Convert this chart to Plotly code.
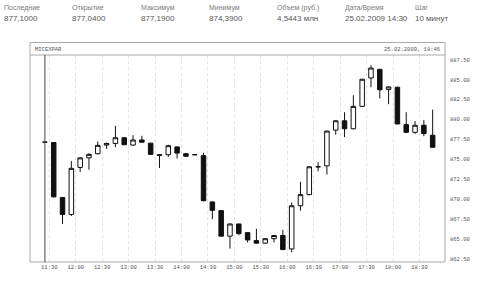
import plotly.graph_objects as go

# ---------------- data ----------------
day = "2009-02-25"
times = ["11:20", "11:30", "11:40", "11:50", "12:00", "12:10", "12:20", "12:30", "12:40", "12:50",
         "13:00", "13:10", "13:20", "13:30", "13:40", "13:50", "14:00", "14:10", "14:20", "14:30",
         "14:40", "14:50", "15:00", "15:10", "15:20", "15:30", "15:40", "15:50", "16:00", "16:10",
         "16:20", "16:30", "16:40", "16:50", "17:00", "17:10", "17:20", "17:30", "17:40", "17:50",
         "18:00", "18:10", "18:20", "18:30", "18:40"]
opens = [877.15, 877.10, 870.19, 868.06, 873.97, 875.17, 875.69, 876.78, 876.98, 877.70,
         876.78, 877.42, 877.02, 875.57, 875.57, 876.54, 875.69, 875.57, 875.45, 869.63,
         868.54, 865.33, 866.86, 865.77, 864.77, 864.45, 865.01, 865.41, 863.72, 869.15,
         870.55, 874.05, 874.17, 878.66, 879.83, 878.83, 881.64, 885.21, 886.30, 883.77,
         884.05, 879.35, 878.38, 879.27, 878.02]
highs = [877.17, 877.15, 870.25, 874.77, 875.25, 875.77, 877.22, 877.10, 879.19, 877.75,
         878.02, 877.94, 877.05, 875.60, 876.82, 876.60, 875.80, 875.60, 875.81, 869.70,
         868.60, 866.90, 866.90, 865.80, 866.26, 865.05, 865.45, 866.13, 869.55, 872.16,
         874.10, 874.61, 878.60, 879.90, 880.91, 883.04, 885.10, 886.82, 886.35, 884.15,
         884.10, 880.91, 879.79, 879.91, 881.23]
lows = [877.13, 870.20, 866.86, 867.86, 873.40, 873.68, 875.60, 876.30, 876.50, 876.80,
        876.70, 877.06, 875.55, 873.89, 875.29, 875.09, 875.30, 875.55, 869.70, 867.46,
        865.30, 863.77, 865.45, 864.53, 864.40, 864.40, 864.53, 863.60, 863.32, 868.54,
        870.45, 873.48, 873.08, 878.10, 877.78, 878.75, 881.60, 884.05, 882.64, 881.92,
        879.40, 878.30, 878.18, 877.90, 876.45]
closes = [877.15, 870.27, 868.06, 873.85, 875.17, 875.61, 876.74, 876.98, 877.70, 876.82,
          877.42, 877.14, 875.61, 875.49, 876.70, 875.77, 875.37, 875.57, 869.79, 868.58,
          865.33, 866.86, 865.65, 864.85, 864.45, 865.01, 865.41, 863.64, 869.15, 870.55,
          874.05, 874.05, 878.54, 879.83, 878.83, 881.64, 885.05, 886.46, 883.73, 884.09,
          879.43, 878.38, 879.27, 878.22, 876.50]
y_ticks = [862.5, 865.0, 867.5, 870.0, 872.5, 875.0, 877.5, 880.0, 882.5, 885.0, 887.5]

header_labels = ["Последние", "Открытие", "Максимум", "Минимум", "Объем (руб.)", "Дата/Время", "Шаг"]
header_values = ["877,1000", "877,0400", "877,1900", "874,3900", "4,5443 млн", "25.02.2009 14:30", "10 минут"]
header_x = [1, 71, 141, 210, 280, 349, 420]
ticker = "MICEXPAR"
stamp = "25.02.2009, 18:46"

# ---------------- layout helpers ----------------
W, H = 480, 281
L, R, T, B = 30, 453, 55, 271          # plot area in pixels
pw, ph = R - L, B - T
def px(x):
    return (x - L) / pw
def py(y):
    return (B - y) / ph

import datetime as dt
def centre(t):
    h, m = map(int, t.split(":"))
    d = dt.datetime(2009, 2, 25, h, m) + dt.timedelta(minutes=5)
    return d.strftime("%Y-%m-%d %H:%M:%S")

xs = [centre(t) for t in times]

fig = go.Figure()
fig.add_trace(go.Candlestick(
    x=xs, open=opens, high=highs, low=lows, close=closes,
    increasing=dict(line=dict(color="#111111", width=1), fillcolor="#ffffff"),
    decreasing=dict(line=dict(color="#111111", width=1), fillcolor="#111111"),
    whiskerwidth=0, showlegend=False, hoverinfo="skip",
))

font_small = dict(family="Liberation Mono", size=5.5, color="#555555")

fig.update_layout(
    width=W, height=H,
    margin=dict(l=L, r=W - R, t=T, b=H - B, pad=0),
    paper_bgcolor="white", plot_bgcolor="white",
    boxgap=0.27,
    xaxis=dict(
        type="date", range=[f"{day} 11:08:05", f"{day} 18:59:00"],
        rangeslider=dict(visible=False),
        tick0=f"{day} 11:30", dtick=1800000, tickformat="%H:%M",
        showgrid=True, gridcolor="#e2e2e2", griddash="dot", gridwidth=1,
        showline=False, zeroline=False, ticks="",
        tickfont=font_small, fixedrange=True,
    ),
    yaxis=dict(
        side="right", range=[862.08, 888.1],
        tickvals=y_ticks, tickformat=".2f",
        showgrid=False, zeroline=False, showline=False, ticks="",
        tickfont=font_small, ticklabelstandoff=4, fixedrange=True,
    ),
)

shapes = []
frame = dict(color="#a8a8a8", width=1)
# outer frame (including header strip)
shapes.append(dict(type="rect", xref="paper", yref="paper", x0=0, x1=1, y0=0, y1=py(42), line=frame))
# header separator
shapes.append(dict(type="line", xref="paper", yref="paper", x0=0, x1=1, y0=1, y1=1, line=frame))
# cursor line at first candle
shapes.append(dict(type="line", xref="x", yref="paper", x0=xs[0], x1=xs[0], y0=0, y1=1,
                   line=dict(color="#444444", width=1)))
fig.update_layout(shapes=shapes)

ann = []
for lab, val, x in zip(header_labels, header_values, header_x):
    ann.append(dict(xref="paper", yref="paper", x=px(x), y=py(5.5), text=lab, showarrow=False,
                    xanchor="left", yanchor="middle",
                    font=dict(family="Liberation Sans", size=7, color="#7a7a7a")))
    ann.append(dict(xref="paper", yref="paper", x=px(x), y=py(16.5), text=val, showarrow=False,
                    xanchor="left", yanchor="middle",
                    font=dict(family="Liberation Sans", size=8, color="#555555")))
ann.append(dict(xref="paper", yref="paper", x=px(33), y=py(49), text=ticker, showarrow=False,
                xanchor="left", yanchor="middle", font=font_small))
ann.append(dict(xref="paper", yref="paper", x=px(450), y=py(49), text=stamp, showarrow=False,
                xanchor="right", yanchor="middle", font=font_small))
fig.update_layout(annotations=ann)

fig.write_html("out.html")
